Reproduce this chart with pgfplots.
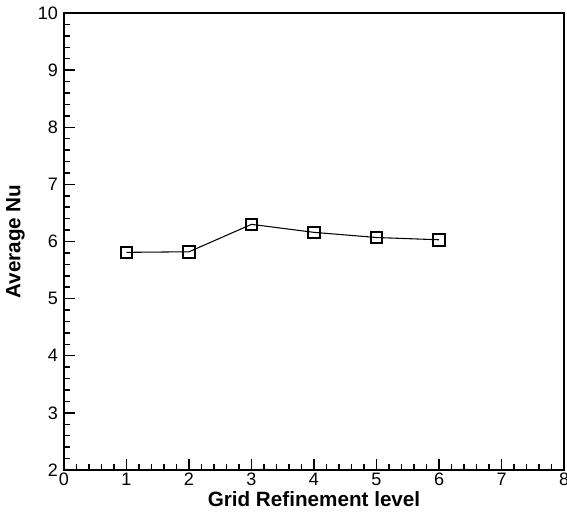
\documentclass[border=0pt]{standalone}
\usepackage{fontspec}
\setmainfont{Liberation Sans}
\usepackage{pgfplots}
\pgfplotsset{compat=1.18}

\begin{document}
\begin{tikzpicture}
\begin{axis}[
    name=ax,
    scale only axis,
    width=375pt, height=342.75pt,
    xmin=0, xmax=8, ymin=2, ymax=10,
    xtick={0,...,8}, ytick={2,...,10},
    minor x tick num=4, minor y tick num=4,
    tick align=inside,
    xtick pos=bottom, ytick pos=left,
    major tick length=8pt, minor tick length=4.5pt,
    axis line style={line width=1.6pt},
    every tick/.style={black, line width=1.1pt},
    ticklabel style={font=\fontsize{13.5}{15}\selectfont},
    /pgf/number format/assume math mode=true,
    xlabel={\textbf{Grid Refinement level}},
    ylabel={\textbf{Average Nu}},
    label style={font=\fontsize{15.5}{17}\selectfont},
    xlabel style={yshift=3pt},
    ylabel style={yshift=3pt},
    xticklabel style={yshift=1pt},
    yticklabel style={xshift=-1pt},
    clip=false,
]
\addplot[black, line width=0.8pt, mark=square, mark size=4.3pt,
    mark options={line width=1.5pt, fill=white}]
    coordinates {(1,5.81) (2,5.82) (3,6.30) (4,6.16) (5,6.07) (6,6.03)};
\end{axis}
\pgfresetboundingbox
\path[use as bounding box] ([xshift=-48pt,yshift=-33pt]ax.south west)
    rectangle ([xshift=2.25pt,yshift=9.75pt]ax.north east);
\end{tikzpicture}
\end{document}
